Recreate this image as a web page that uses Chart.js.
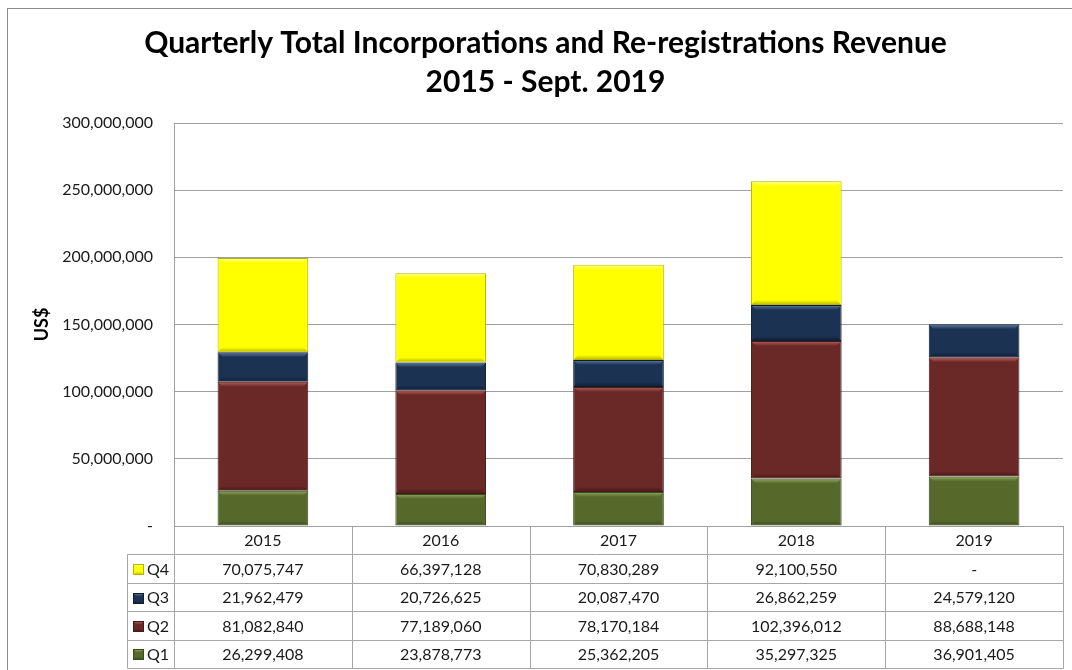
<!DOCTYPE html>
<html><head><meta charset="utf-8">
<script src="https://cdn.jsdelivr.net/npm/chart.js@4.4.1/dist/chart.umd.min.js"></script>
<style>html,body{margin:0;padding:0;background:#fff;} #wrap{width:1072px;height:670px;position:relative;overflow:hidden;}</style>
</head><body><div id="wrap"><canvas id="c" width="1072" height="670"></canvas></div>
<script>
const years = ['2015', '2016', '2017', '2018', '2019'];
const q1 = [26299408, 23878773, 25362205, 35297325, 36901405];
const q2 = [81082840, 77189060, 78170184, 102396012, 88688148];
const q3 = [21962479, 20726625, 20087470, 26862259, 24579120];
const q4 = [70075747, 66397128, 70830289, 92100550, null];
const seriesNames = ['Q1', 'Q2', 'Q3', 'Q4'];
const titleLines = ['Quarterly Total Incorporations and Re-registrations Revenue', '2015 - Sept. 2019'];
const yTitle = 'US$';

const palette = {
  Q1: {base: '#56692b', light: '#93a962', dark: '#3b4a1c'},
  Q2: {base: '#6a2826', light: '#b8625d', dark: '#461918'},
  Q3: {base: '#1b3253', light: '#647ea3', dark: '#0e1d33'},
  Q4: {base: '#ffff00', light: '#ffff9a', dark: '#b5b500'}
};
const FONT = 'Lato, "Open Sans", sans-serif';
const fmt = v => (v === null || v === undefined || v === 0) ? '-' : v.toLocaleString('en-US');

const seriesData = [q1, q2, q3, q4];

function bevelRect(ctx, x0, y0, x1, y1, c) {
  const h = y1 - y0, w = x1 - x0;
  if (h <= 0 || w <= 0) return;
  const band = Math.min(5, h / 3);
  const g = ctx.createLinearGradient(0, y0, 0, y0 + band);
  g.addColorStop(0, c.light);
  g.addColorStop(1, c.base);
  ctx.fillStyle = g;
  ctx.beginPath();
  ctx.moveTo(x0 + 1, y0 + 1);
  ctx.lineTo(x1 - 1, y0 + 1);
  ctx.lineTo(x1 - 1 - band, y0 + 1 + band);
  ctx.lineTo(x0 + 1 + band, y0 + 1 + band);
  ctx.closePath();
  ctx.fill();
  const gb = ctx.createLinearGradient(0, y1 - band, 0, y1);
  gb.addColorStop(0, c.base);
  gb.addColorStop(1, c.dark);
  ctx.fillStyle = gb;
  ctx.beginPath();
  ctx.moveTo(x0 + 1, y1 - 1);
  ctx.lineTo(x1 - 1, y1 - 1);
  ctx.lineTo(x1 - 1 - band, y1 - 1 - band);
  ctx.lineTo(x0 + 1 + band, y1 - 1 - band);
  ctx.closePath();
  ctx.fill();
}

const bevelPlugin = {
  id: 'bevel',
  afterDatasetsDraw(chart) {
    const ctx = chart.ctx;
    ctx.save();
    chart.data.datasets.forEach((ds, di) => {
      const meta = chart.getDatasetMeta(di);
      const c = palette[ds.label];
      meta.data.forEach((el, i) => {
        if (ds.data[i] === null) return;
        const top = Math.min(el.y, el.base), bot = Math.max(el.y, el.base);
        bevelRect(ctx, el.x - el.width / 2, top, el.x + el.width / 2, bot, c);
      });
    });
    ctx.restore();
  }
};

const framePlugin = {
  id: 'frame',
  beforeDraw(chart) {
    const ctx = chart.ctx;
    ctx.save();
    ctx.fillStyle = '#ffffff';
    ctx.fillRect(0, 0, chart.width, chart.height);
    ctx.strokeStyle = '#8c8c8c';
    ctx.lineWidth = 1;
    ctx.strokeRect(7.5, 8.5, 2000, 2000);
    ctx.restore();
  }
};

const tablePlugin = {
  id: 'dataTable',
  afterDraw(chart) {
    const ctx = chart.ctx;
    const ca = chart.chartArea;
    const xs = chart.scales.x;
    const n = years.length;
    const colW = xs.getPixelForValue(1) - xs.getPixelForValue(0);
    const rowH = 28.4;
    const top = ca.bottom;
    const legendLeft = 127;
    const rows = [3, 2, 1, 0];
    const bottom = top + rowH * (rows.length + 1);
    const px = v => Math.round(v) + 0.5;
    ctx.save();
    ctx.strokeStyle = '#a6a6a6';
    ctx.lineWidth = 1;
    ctx.beginPath();
    for (let k = 1; k <= rows.length + 1; k++) {
      const yy = px(top + rowH * k);
      ctx.moveTo(legendLeft + 0.5, yy);
      ctx.lineTo(px(ca.right), yy);
    }
    for (let j = 0; j <= n; j++) {
      const xx = px(xs.getPixelForValue(0) - colW / 2 + colW * j);
      ctx.moveTo(xx, px(top));
      ctx.lineTo(xx, px(bottom));
    }
    ctx.moveTo(legendLeft + 0.5, px(top + rowH));
    ctx.lineTo(legendLeft + 0.5, px(bottom));
    ctx.stroke();

    ctx.fillStyle = '#1a1a1a';
    ctx.font = '16px ' + FONT;
    ctx.textAlign = 'center';
    ctx.textBaseline = 'middle';
    years.forEach((y, i) => {
      ctx.fillText(y, xs.getPixelForValue(i), top + rowH / 2 + 1);
    });
    rows.forEach((si, r) => {
      const cy = top + rowH * (r + 1) + rowH / 2 + 1;
      const arr = seriesData[si];
      ctx.textAlign = 'center';
      ctx.fillStyle = '#1a1a1a';
      arr.forEach((v, i) => {
        ctx.fillText(fmt(v), xs.getPixelForValue(i), cy);
      });
      const c = palette[seriesNames[si]];
      const kx = 133, ks = 11, ky = Math.round(cy - ks / 2);
      ctx.fillStyle = c.base;
      ctx.fillRect(kx, ky, ks, ks);
      ctx.strokeStyle = c.dark;
      ctx.strokeRect(kx + 0.5, ky + 0.5, ks - 1, ks - 1);
      bevelRect(ctx, kx, ky, kx + ks, ky + ks, c);
      ctx.fillStyle = '#1a1a1a';
      ctx.textAlign = 'left';
      ctx.fillText(seriesNames[si], 147, cy);
    });
    ctx.restore();
  }
};

const datasets = seriesNames.map((name, i) => ({
  label: name,
  data: seriesData[i],
  backgroundColor: palette[name].base,
  borderColor: palette[name].dark,
  borderWidth: 1,
  borderSkipped: false,
  barPercentage: 0.51,
  categoryPercentage: 1.0
}));

new Chart(document.getElementById('c'), {
  type: 'bar',
  data: {labels: years, datasets},
  options: {
    responsive: false,
    animation: false,
    devicePixelRatio: 1,
    layout: {padding: {left: 28, right: 9, top: 0, bottom: 144}},
    plugins: {
      legend: {display: false},
      tooltip: {enabled: false},
      title: {
        display: true,
        text: titleLines,
        color: '#000',
        font: {family: FONT, size: 30, weight: 'bold', lineHeight: 1.3},
        padding: {top: 24, bottom: 21}
      }
    },
    scales: {
      x: {
        stacked: true,
        ticks: {display: false},
        grid: {display: false, drawTicks: false},
        border: {display: true, color: '#a0a0a0'},
        afterFit(s) { s.height = 0; }
      },
      y: {
        stacked: true,
        min: 0,
        max: 300000000,
        ticks: {
          stepSize: 50000000,
          padding: 21,
          color: '#1a1a1a',
          font: {family: FONT, size: 16},
          callback: v => fmt(v)
        },
        grid: {color: '#a0a0a0', drawTicks: false},
        border: {display: true, color: '#a0a0a0'},
        title: {
          display: true,
          text: yTitle,
          color: '#000',
          font: {family: FONT, size: 18, weight: 'bold'},
          padding: {top: 3, bottom: 0}
        },
        afterFit(s) { s.width = 146; }
      }
    }
  },
  plugins: [framePlugin, bevelPlugin, tablePlugin]
});
</script>
</body></html>
